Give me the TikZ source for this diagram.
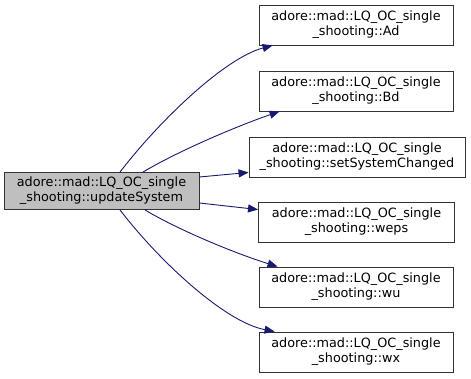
\documentclass[tikz,border=0pt]{standalone}
\usepackage{fontspec}
\setmainfont{DejaVu Sans}
\usetikzlibrary{arrows.meta}
\definecolor{edgeblue}{HTML}{191970}
\definecolor{nodegray}{HTML}{BFBFBF}
\begin{document}
\begin{tikzpicture}[x=1pt,y=-1pt,
  fn/.style={draw=black!80, line width=0.9pt, fill=white, inner sep=0pt,
    minimum height=40pt, align=center, font=\fontsize{12.8}{15}\selectfont},
  call/.style={draw=edgeblue, line width=0.9pt, -{Triangle[length=10pt,width=8pt]}}]
\useasboundingbox (0,0) rectangle (471,379);
% caller
\node[fn, fill=nodegray, minimum width=195pt, minimum height=37pt] (us) at (101.5,191)
  {adore::mad::LQ\_OC\_single\\\_shooting::updateSystem};
% callees
\node[fn, minimum width=194pt] (ad) at (356,25) {adore::mad::LQ\_OC\_single\\\_shooting::Ad};
\node[fn, minimum width=194pt] (bd) at (356,91) {adore::mad::LQ\_OC\_single\\\_shooting::Bd};
\node[fn, minimum width=216pt] (ssc) at (357,157) {adore::mad::LQ\_OC\_single\\\_shooting::setSystemChanged};
\node[fn, minimum width=196pt] (weps) at (356.5,222) {adore::mad::LQ\_OC\_single\\\_shooting::weps};
\node[fn, minimum width=194pt] (wu) at (356,287) {adore::mad::LQ\_OC\_single\\\_shooting::wu};
\node[fn, minimum width=194pt] (wx) at (356,352) {adore::mad::LQ\_OC\_single\\\_shooting::wx};
% calls
\draw[call] ([xshift=18.5pt]us.north) .. controls (160,120) and (225,58) .. ([xshift=14pt]ad.south west);
\draw[call] ([xshift=41.5pt]us.north) .. controls (180,150) and (240,125) .. ([xshift=21pt]bd.south west);
\draw[call] ([yshift=14pt]us.east) -- ([yshift=5pt]ssc.south west);
\draw[call] ([yshift=-12pt]us.east) -- ([yshift=-8pt]weps.north west);
\draw[call] ([xshift=43.5pt]us.south) .. controls (182,232) and (240,255) .. ([xshift=19pt]wu.north west);
\draw[call] ([xshift=18.5pt]us.south) .. controls (160,262) and (225,322) .. ([xshift=16pt]wx.north west);
\end{tikzpicture}
\end{document}
